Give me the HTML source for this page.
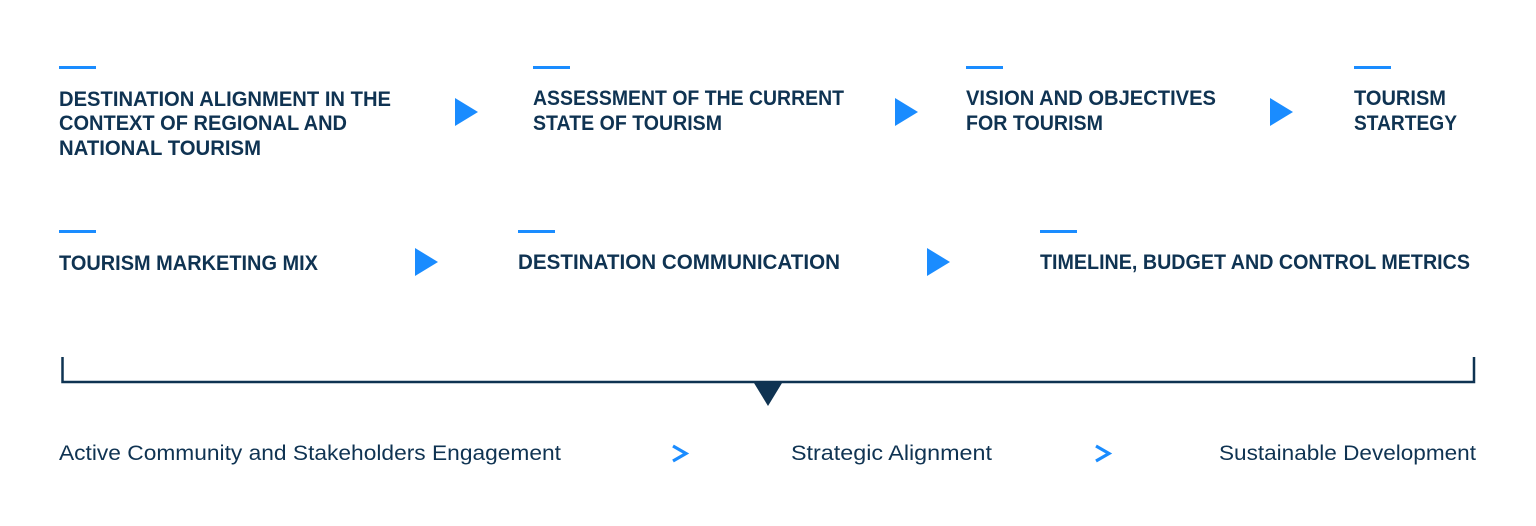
<!DOCTYPE html>
<html><head><meta charset="utf-8"><style>
html,body{margin:0;padding:0;background:#fff;}
svg{display:block;}
.h{font-family:"Liberation Sans",sans-serif;font-weight:bold;font-size:21px;fill:#0f3352;}
.b{font-family:"Liberation Sans",sans-serif;font-size:21px;fill:#0f3352;}
</style></head><body>
<svg width="1536" height="526" viewBox="0 0 1536 526" xmlns="http://www.w3.org/2000/svg">
<g fill="#1a8cff">
<rect x="59" y="66" width="37" height="3"/>
<rect x="533" y="66" width="37" height="3"/>
<rect x="966" y="66" width="37" height="3"/>
<rect x="1354" y="66" width="37" height="3"/>
<rect x="59" y="230" width="37" height="3"/>
<rect x="518" y="230" width="37" height="3"/>
<rect x="1040" y="230" width="37" height="3"/>
<polygon points="455,98 478,112 455,126"/>
<polygon points="895,98 918,112 895,126"/>
<polygon points="1270,98 1293,112 1270,126"/>
<polygon points="415,248 438,262 415,276"/>
<polygon points="927,248 950,262 927,276"/>
</g>
<text class="h" x="59" y="106" textLength="332" lengthAdjust="spacingAndGlyphs">DESTINATION ALIGNMENT IN THE</text>
<text class="h" x="59" y="130" textLength="288" lengthAdjust="spacingAndGlyphs">CONTEXT OF REGIONAL AND</text>
<text class="h" x="59" y="155" textLength="202" lengthAdjust="spacingAndGlyphs">NATIONAL TOURISM</text>
<text class="h" x="533" y="105" textLength="311" lengthAdjust="spacingAndGlyphs">ASSESSMENT OF THE CURRENT</text>
<text class="h" x="533" y="130" textLength="189" lengthAdjust="spacingAndGlyphs">STATE OF TOURISM</text>
<text class="h" x="966" y="105" textLength="250" lengthAdjust="spacingAndGlyphs">VISION AND OBJECTIVES</text>
<text class="h" x="966" y="130" textLength="137" lengthAdjust="spacingAndGlyphs">FOR TOURISM</text>
<text class="h" x="1354" y="105" textLength="92" lengthAdjust="spacingAndGlyphs">TOURISM</text>
<text class="h" x="1354" y="130" textLength="103" lengthAdjust="spacingAndGlyphs">STARTEGY</text>
<text class="h" x="59" y="270" textLength="259" lengthAdjust="spacingAndGlyphs">TOURISM MARKETING MIX</text>
<text class="h" x="518" y="269" textLength="322" lengthAdjust="spacingAndGlyphs">DESTINATION COMMUNICATION</text>
<text class="h" x="1040" y="269" textLength="430" lengthAdjust="spacingAndGlyphs">TIMELINE, BUDGET AND CONTROL METRICS</text>
<path d="M62.5,357 V382 H1474 V357" fill="none" stroke="#0f3352" stroke-width="2.5"/>
<polygon points="754,383 782,383 768,406" fill="#0f3352"/>
<text class="b" x="59" y="460" textLength="502" lengthAdjust="spacingAndGlyphs">Active Community and Stakeholders Engagement</text>
<text class="b" x="791" y="460" textLength="201" lengthAdjust="spacingAndGlyphs">Strategic Alignment</text>
<text class="b" x="1219" y="460" textLength="257" lengthAdjust="spacingAndGlyphs">Sustainable Development</text>
<g fill="none" stroke="#1a8cff" stroke-width="3.2" stroke-linejoin="miter">
<polyline points="673,446 686,453.5 673,461"/>
<polyline points="1096,446 1109,453.5 1096,461"/>
</g>
</svg>
</body></html>
